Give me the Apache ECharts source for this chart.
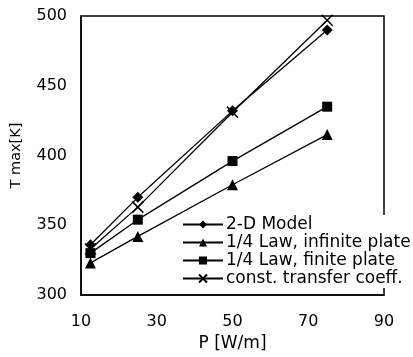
<!DOCTYPE html>
<html><head><meta charset="utf-8">
<script src="https://cdn.jsdelivr.net/npm/echarts@6/dist/echarts.min.js"></script>
<style>html,body{margin:0;padding:0;background:#fff}#c{width:413px;height:357px}</style>
</head><body><div id="c"></div>
<script>
const xValues = [12.5, 25, 50, 75];
const model2D = [336, 370, 432, 490];
const lawInfinite = [323, 342, 379, 415];
const lawFinite = [330, 354, 396, 435];
const constCoeff = [333, 363, 431, 497];
const seriesNames = ['2-D Model', '1/4 Law, infinite plate', '1/4 Law, finite plate', 'const. transfer coeff.'];
const xTicks = [10, 30, 50, 70, 90];
const yTicks = [300, 350, 400, 450, 500];

const pair = arr => xValues.map((x, i) => [x, arr[i]]);
const font = 'DejaVu Sans, sans-serif';
function mk(name, data, symbol, size, hollow) {
  return {
    name, type: 'line', data: pair(data), symbol, symbolSize: size,
    lineStyle: { color: '#000', width: 1.3 },
    itemStyle: hollow ? { color: 'transparent', borderColor: '#000', borderWidth: 1.5 } : { color: '#000' },
    emphasis: { disabled: true }, animation: false, z: 2
  };
}
const chart = echarts.init(document.getElementById('c'));
chart.setOption({
  animation: false,
  grid: { left: 81, right: 29, top: 16, bottom: 62, show: true, borderColor: '#000', borderWidth: 1.5 },
  xAxis: {
    type: 'value', min: xTicks[0], max: xTicks[xTicks.length - 1], interval: 20, z: 10,
    name: 'P [W/m]', nameLocation: 'middle', nameGap: 36,
    nameTextStyle: { fontFamily: font, fontSize: 17, color: '#000' },
    axisLine: { show: true, lineStyle: { color: '#000', width: 1.5 } },
    axisTick: { show: false }, splitLine: { show: false },
    axisLabel: { fontFamily: font, fontSize: 16, color: '#000', margin: 19 }
  },
  yAxis: {
    type: 'value', min: yTicks[0], max: yTicks[yTicks.length - 1], interval: 50,
    name: 'T max[K]', nameLocation: 'middle', nameGap: 57,
    nameTextStyle: { fontFamily: font, fontSize: 14.5, color: '#000' },
    axisLine: { show: true, lineStyle: { color: '#000', width: 1.5 } },
    axisTick: { show: false }, splitLine: { show: false },
    axisLabel: { fontFamily: font, fontSize: 16, color: '#000', margin: 14 }
  },
  legend: {
    orient: 'vertical', left: 178, top: 215, itemGap: 1, itemWidth: 40, itemHeight: 10,
    backgroundColor: '#fff', padding: [1, 4, 1, 4],
    textStyle: { fontFamily: font, fontSize: 17, color: '#000', padding: [0, 0, 0, -2] },
    data: seriesNames
  },
  series: [
    mk(seriesNames[0], model2D, 'diamond', 11),
    mk(seriesNames[1], lawInfinite, 'triangle', 11),
    mk(seriesNames[2], lawFinite, 'rect', 10),
    mk(seriesNames[3], constCoeff, 'path://M0,0L10,10M10,0L0,10', 11, true)
  ]
});
</script></body></html>
